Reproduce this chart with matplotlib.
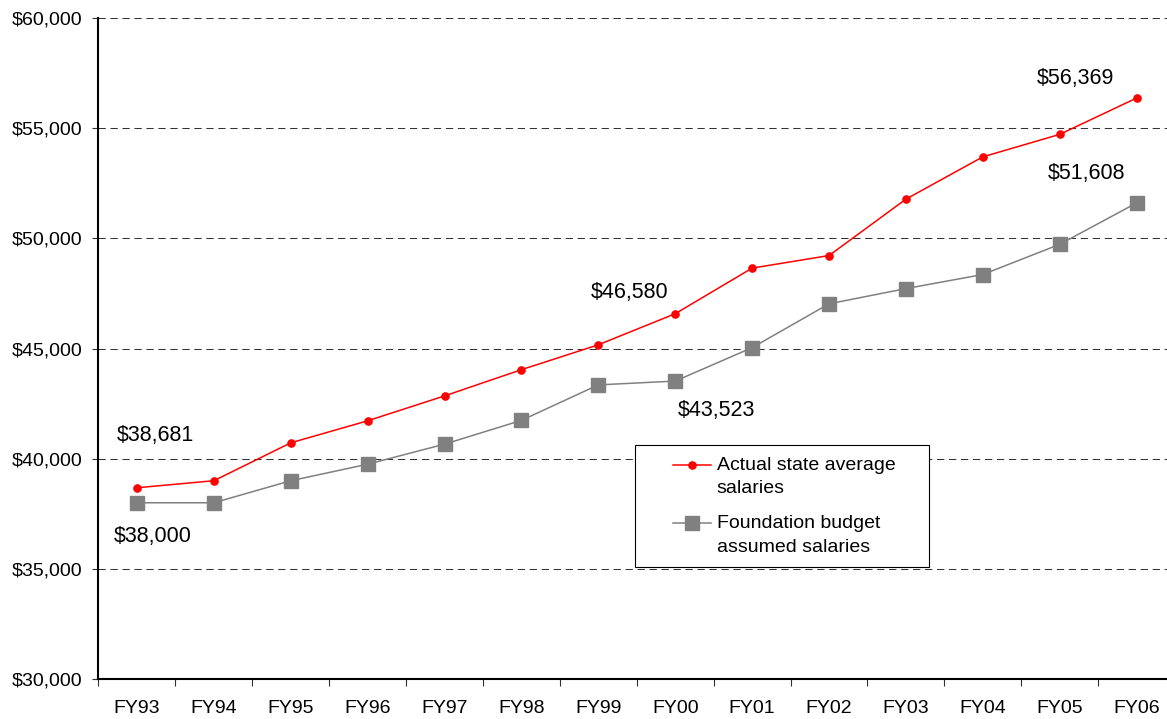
import matplotlib
matplotlib.use('Agg')
import matplotlib.pyplot as plt
from matplotlib.legend_handler import HandlerLine2D
from matplotlib.ticker import FuncFormatter, FixedLocator

plt.rcParams['font.family'] = ['Liberation Sans', 'DejaVu Sans']

# fiscal years and salaries
years = ['FY93', 'FY94', 'FY95', 'FY96', 'FY97', 'FY98', 'FY99',
         'FY00', 'FY01', 'FY02', 'FY03', 'FY04', 'FY05', 'FY06']
actual = [38681, 39000, 40720, 41720, 42850, 44040, 45170,
          46580, 48650, 49220, 51780, 53700, 54720, 56369]
budget = [38000, 38000, 39000, 39750, 40660, 41740, 43350,
          43523, 45040, 47030, 47720, 48360, 49730, 51608]
yticks = [30000, 35000, 40000, 45000, 50000, 55000, 60000]


class FirstLineHandler(HandlerLine2D):
    # put the legend line level with the first text line, not the middle
    def create_artists(self, legend, orig_handle, xdescent, ydescent,
                       width, height, fontsize, trans):
        return super().create_artists(legend, orig_handle, xdescent,
                                      ydescent - 1.25 * fontsize, width, height,
                                      fontsize, trans)


fig = plt.figure(figsize=(11.67, 7.19), dpi=100)
# axis runs a little past the right edge of the picture, like the original
ax = fig.add_axes([0.0844, 0.0556, 0.9225, 0.9193])

x = range(len(years))
ax.plot(x, budget, color='#808080', lw=1.1, marker='s', ms=9.5,
        label='Foundation budget\nassumed salaries', zorder=3)
ax.plot(x, actual, color='#ff0000', lw=1.1, marker='o', ms=5.2,
        label='Actual state average    \nsalaries', zorder=4)

ax.set_xlim(-0.5, len(years) - 0.5)
ax.set_ylim(yticks[0], yticks[-1])
ax.set_yticks(yticks)
ax.yaxis.set_major_formatter(FuncFormatter(lambda v, p: '${:,.0f}'.format(v)))
ax.set_xticks(list(x))
ax.set_xticklabels(years)
ax.xaxis.set_minor_locator(FixedLocator([i - 0.5 for i in range(len(years) + 1)]))

ax.tick_params(axis='x', which='major', length=0, pad=15, labelsize=14)
ax.tick_params(axis='x', which='minor', length=5, width=0.8, direction='out', color='#333333')
ax.tick_params(axis='y', length=4.3, width=0.8, pad=7.5, labelsize=14, color='#333333')

ax.yaxis.grid(True, color='#333333', lw=0.75, linestyle=(0, (7, 4.5)))
ax.set_axisbelow(True)
for s in ['top', 'right']:
    ax.spines[s].set_visible(False)
for s in ['left', 'bottom']:
    ax.spines[s].set_linewidth(1.5)
    ax.spines[s].set_color('black')

# value labels at first, FY00 and last years
def label(series, i, dx, dy):
    ax.annotate('${:,}'.format(series[i]), (i, series[i]), xytext=(dx, dy),
                textcoords='offset pixels', ha='center', va='center', fontsize=15.5)

label(actual, 0, 18, 52)
label(budget, 0, 16, -34)
label(actual, 7, -46, 21)
label(budget, 7, 41, -29)
label(actual, 13, -61, 20)
label(budget, 13, -50, 29)

handles, labels = ax.get_legend_handles_labels()
hm = {h: FirstLineHandler(xpad=1.36) for h in handles}
leg = ax.legend(handles[::-1], labels[::-1], loc='lower left',
                bbox_to_anchor=(0.498, 0.169), borderaxespad=0, fontsize=14,
                borderpad=0.6, handlelength=3.32, handletextpad=0.3, labelspacing=0.9,
                fancybox=False, framealpha=1, edgecolor='black', handler_map=hm)
leg.get_frame().set_linewidth(0.8)
for t in leg.get_texts():
    t.set_linespacing(1.52)

fig.savefig('out.png', dpi=100)
